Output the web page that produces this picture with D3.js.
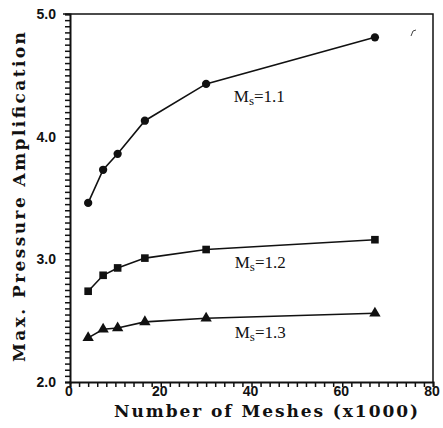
<!DOCTYPE html>
<html>
<head>
<meta charset="utf-8">
<script src="https://cdn.jsdelivr.net/npm/d3@7"></script>
<style>
  body { margin: 0; background: #fff; }
  .tick-label { font-family: "Liberation Sans", Arial, sans-serif; font-weight: bold; font-size: 14px; fill: #111; }
  .axes-label { font-family: "DejaVu Serif", serif; font-weight: bold; font-size: 17px; fill: #111; }
  .series-label { font-family: "Liberation Serif", "Times New Roman", serif; font-size: 17px; fill: #111; }
</style>
</head>
<body>
<div id="chart"></div>
<script>
// mesh counts (x1000), shared by all three curves
const meshes = [4.0, 7.3, 10.5, 16.5, 30, 67.2];

// max. pressure amplification per shock Mach number
const ms11 = [3.46, 3.73, 3.86, 4.13, 4.43, 4.81];
const ms12 = [2.74, 2.87, 2.93, 3.01, 3.08, 3.16];
const ms13 = [2.36, 2.43, 2.44, 2.49, 2.52, 2.56];

const seriesNames = ['1.1', '1.2', '1.3'];
const seriesMarkers = ['circle', 'square', 'triangle'];
// where each "Ms=" label sits, in data units
const labelAt = [[36.1, 4.28], [36.3, 2.93], [36.3, 2.36]];

const xTicks = [0, 20, 40, 60, 80];
const yTicks = [2.0, 3.0, 4.0, 5.0];

let width = 443, height = 428,
    margin = {top: 14, left: 70, right: 10, bottom: 46};

let x = d3.scaleLinear().domain([0, 80]).range([margin.left, width - margin.right]),
    y = d3.scaleLinear().domain([2, 5]).range([height - margin.bottom, margin.top]);

let svg = d3.select('#chart').append('svg')
    .attr('width', width)
    .attr('height', height);

// frame: thin top and right edges
svg.append('path')
    .attr('d', `M${x(0) - 7},${y(5)}H${x(80)}V${y(2)}`)
    .attr('fill', 'none')
    .attr('stroke', '#111')
    .attr('stroke-width', 1.5);

// minor ticks on y (every 0.05), pointing out
let yAxis = svg.append('g')
    .attr('transform', `translate(${x(0)},0)`)
    .call(d3.axisLeft(y).tickValues(d3.range(2, 5.001, 0.05)).tickSize(5).tickFormat(''));
yAxis.select('.domain').attr('stroke-width', 2).attr('stroke', '#111');
yAxis.selectAll('.tick line').attr('stroke-width', 1.5).attr('stroke', '#111');

// minor ticks on x (every 2), pointing down
let xAxis = svg.append('g')
    .attr('transform', `translate(0,${y(2)})`)
    .call(d3.axisBottom(x).tickValues(d3.range(0, 80.001, 2)).tickSize(5).tickFormat(''));
xAxis.select('.domain').attr('stroke-width', 2).attr('stroke', '#111');
xAxis.selectAll('.tick line').attr('stroke-width', 1.5).attr('stroke', '#111');

// tick labels
svg.selectAll('.ylab')
    .data(yTicks).enter()
    .append('text')
    .classed('tick-label', true)
    .attr('x', x(0) - 14)
    .attr('y', d => y(d) + 5)
    .attr('text-anchor', 'end')
    .text(d => d.toFixed(1));

svg.selectAll('.xlab')
    .data(xTicks).enter()
    .append('text')
    .classed('tick-label', true)
    .attr('x', d => x(d) - 1)
    .attr('y', y(2) + 14)
    .attr('text-anchor', 'middle')
    .text(d => d);

// axis titles
svg.append('text')
    .classed('axes-label', true)
    .attr('x', 114)
    .attr('y', 417)
    .attr('textLength', 304)
    .attr('lengthAdjust', 'spacing')
    .text('Number of Meshes (x1000)');

svg.append('text')
    .classed('axes-label', true)
    .attr('transform', 'translate(25,362) rotate(-90)')
    .attr('textLength', 330)
    .attr('lengthAdjust', 'spacing')
    .text('Max. Pressure Amplification');

// curves
let line = d3.line().x((d, i) => x(meshes[i])).y(d => y(d));
let allSeries = [ms11, ms12, ms13];

allSeries.forEach((vals, k) => {
    svg.append('path')
        .datum(vals)
        .attr('d', line)
        .attr('fill', 'none')
        .attr('stroke', '#111')
        .attr('stroke-width', 1.6);

    let sym = seriesMarkers[k] === 'circle' ? d3.symbolCircle
        : seriesMarkers[k] === 'square' ? d3.symbolSquare : d3.symbolTriangle;
    let size = seriesMarkers[k] === 'circle' ? 54 : seriesMarkers[k] === 'square' ? 58 : 56;

    svg.selectAll(null)
        .data(vals).enter()
        .append('path')
        .attr('d', d3.symbol().type(sym).size(size))
        .attr('transform', (d, i) => `translate(${x(meshes[i])},${y(d)})`)
        .attr('fill', '#111');

    // label M_s = ...
    let t = svg.append('text')
        .classed('series-label', true)
        .attr('x', x(labelAt[k][0]))
        .attr('y', y(labelAt[k][1]));
    t.append('tspan').text('M');
    t.append('tspan').attr('font-size', 13).attr('dy', 3).text('s');
    t.append('tspan').attr('dy', -3).text('=' + seriesNames[k]);
});

// small stray mark near the top right of the scan
svg.append('path')
    .attr('d', 'M411,36 L413,31 L416,30')
    .attr('fill', 'none')
    .attr('stroke', '#444')
    .attr('stroke-width', 1);
</script>
</body>
</html>
